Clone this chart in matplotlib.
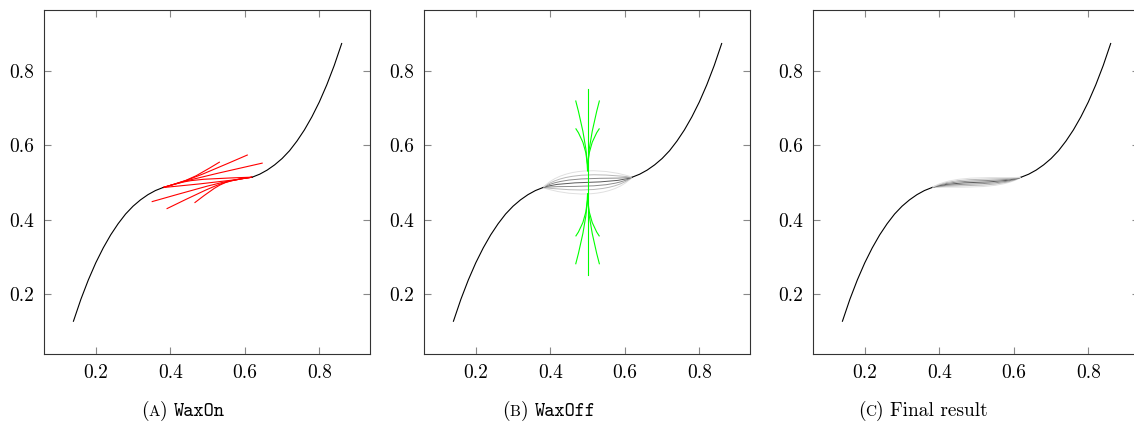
import numpy as np
import matplotlib.pyplot as plt
from matplotlib.path import Path
from matplotlib.patches import PathPatch

plt.rcParams['font.family'] = ['cmr10', 'DejaVu Serif']
plt.rcParams['mathtext.fontset'] = 'cm'
plt.rcParams['axes.formatter.use_mathtext'] = True

# base curve
curve_x = [0.14, 0.16, 0.18, 0.20, 0.22, 0.24, 0.26, 0.28, 0.30, 0.32, 0.34, 0.36, 0.38,
           0.62, 0.64, 0.66, 0.68, 0.70, 0.72, 0.74, 0.76, 0.78, 0.80, 0.82, 0.84, 0.86]
curve_y = [0.127, 0.186, 0.238, 0.284, 0.324, 0.359, 0.389, 0.415, 0.436, 0.453, 0.467, 0.478, 0.486,
           0.514, 0.522, 0.533, 0.547, 0.564, 0.585, 0.611, 0.641, 0.676, 0.716, 0.762, 0.814, 0.873]
n_left = 13  # points up to the left joint
joint_slope = 0.35

# (A) red fans: left group starts at left joint, right group at right joint
red_left_ctrl = (0.455, 0.508)
red_left_end_x = [0.533, 0.608, 0.648, 0.620]
red_left_end_y = [0.555, 0.574, 0.552, 0.514]
red_right_ctrl = (0.54, 0.502)
red_right_end_x = [0.350, 0.390, 0.465, 0.380]
red_right_end_y = [0.448, 0.429, 0.445, 0.486]

# (B) gray candidates: value at x=0.5, and gray level
wax_mid_b = [0.469, 0.480, 0.490, 0.500, 0.510, 0.520, 0.531]
wax_gray = ['0.88', '0.72', '0.55', '0.35', '0.55', '0.72', '0.88']
# (B) green fans around x = 0.5
green_x = 0.5
green_line = [0.25, 0.75]
green_start = [0.53, 0.47]
green_ctrl = [0.60, 0.40]
green_end_dx = [-0.032, 0.032, -0.032, 0.032]
green_end_up = [0.72, 0.72, 0.645, 0.645]
green_end_dn = [0.28, 0.28, 0.355, 0.355]

# (C) final gray curves
wax_mid_c = [0.488, 0.492, 0.496, 0.500, 0.504, 0.508, 0.512]

caption_tags = ['A', 'B', 'C']
caption_names = ['WaxOn', 'WaxOff', 'Final result']
caption_tt = [True, True, False]
caption_x = [183, 549, 923]

W, H = 1134, 426
fig = plt.figure(figsize=(W / 100, H / 100), dpi=100)
lefts = [44, 424, 813]
axes = [fig.add_axes([l / W, 72 / H, 326 / W, 344 / H]) for l in lefts]

x0, y0 = curve_x[n_left - 1], curve_y[n_left - 1]
x3, y3 = curve_x[n_left], curve_y[n_left]


def fan(ax, s, c, e, color, lw=0.8):
    p = Path([s, c, c, e], [Path.MOVETO, Path.CURVE4, Path.CURVE4, Path.CURVE4])
    ax.add_patch(PathPatch(p, fill=False, edgecolor=color, lw=lw))


def quad(ax, s, c, e, color, lw=0.8):
    p = Path([s, c, e], [Path.MOVETO, Path.CURVE3, Path.CURVE3])
    ax.add_patch(PathPatch(p, fill=False, edgecolor=color, lw=lw))


def bump(ax, mid, color, a):
    b1 = y0 + joint_slope * a
    b2 = y3 - joint_slope * a
    d = (8 * mid - y0 - y3 - 3 * b1 - 3 * b2) / 6
    p = Path([(x0, y0), (x0 + a, b1 + d), (x3 - a, b2 + d), (x3, y3)],
             [Path.MOVETO, Path.CURVE4, Path.CURVE4, Path.CURVE4])
    ax.add_patch(PathPatch(p, fill=False, edgecolor=color, lw=0.7))


for ax in axes:
    ax.plot(curve_x[:n_left], curve_y[:n_left], color='black', lw=0.8)
    ax.plot(curve_x[n_left:], curve_y[n_left:], color='black', lw=0.8)

# panel A
ax = axes[0]
for ex, ey in zip(red_left_end_x, red_left_end_y):
    fan(ax, (x0, y0), red_left_ctrl, (ex, ey), 'red')
for ex, ey in zip(red_right_end_x, red_right_end_y):
    fan(ax, (x3, y3), red_right_ctrl, (ex, ey), 'red')

# panel B
ax = axes[1]
for m, g in zip(wax_mid_b, wax_gray):
    bump(ax, m, g, 0.06)
ax.plot([green_x, green_x], green_line, color='#00ff00', lw=0.8)
for dx, eu, ed in zip(green_end_dx, green_end_up, green_end_dn):
    quad(ax, (green_x, green_start[0]), (green_x, green_ctrl[0]), (green_x + dx, eu), '#00ff00')
    quad(ax, (green_x, green_start[1]), (green_x, green_ctrl[1]), (green_x + dx, ed), '#00ff00')

# panel C
ax = axes[2]
for m, g in zip(wax_mid_c, wax_gray):
    bump(ax, m, g, 0.06)

for ax in axes:
    ax.set_xlim(0.061, 0.936)
    ax.set_ylim(0.039, 0.963)
    ax.set_xticks([0.2, 0.4, 0.6, 0.8])
    ax.set_yticks([0.2, 0.4, 0.6, 0.8])
    ax.set_xticklabels(['0.2', '0.4', '0.6', '0.8'])
    ax.set_yticklabels(['0.2', '0.4', '0.6', '0.8'])
    ax.tick_params(direction='in', top=True, right=True, length=5, width=0.8,
                   color='#888888', labelsize=14, pad=7)
    for s in ax.spines.values():
        s.set_color('#333333')
        s.set_linewidth(0.8)

# captions: "(" small-cap letter ")" name
renderer = fig.canvas.get_renderer()
for tag, name, tt, cx in zip(caption_tags, caption_names, caption_tt, caption_x):
    parts = [('(', 14, 'cmr10'), (tag, 11, 'cmr10'), (') ', 14, 'cmr10'),
             (name, 14, 'cmtt10' if tt else 'cmr10')]
    texts = [fig.text(0, 0, p, fontsize=fs, family=fam, va='baseline')
             for p, fs, fam in parts]
    widths = [t.get_window_extent(renderer).width for t in texts]
    x = cx - sum(widths) / 2
    for t, w in zip(texts, widths):
        t.set_position((x / W, 10 / H))
        x += w

fig.savefig('out.png', dpi=100)
